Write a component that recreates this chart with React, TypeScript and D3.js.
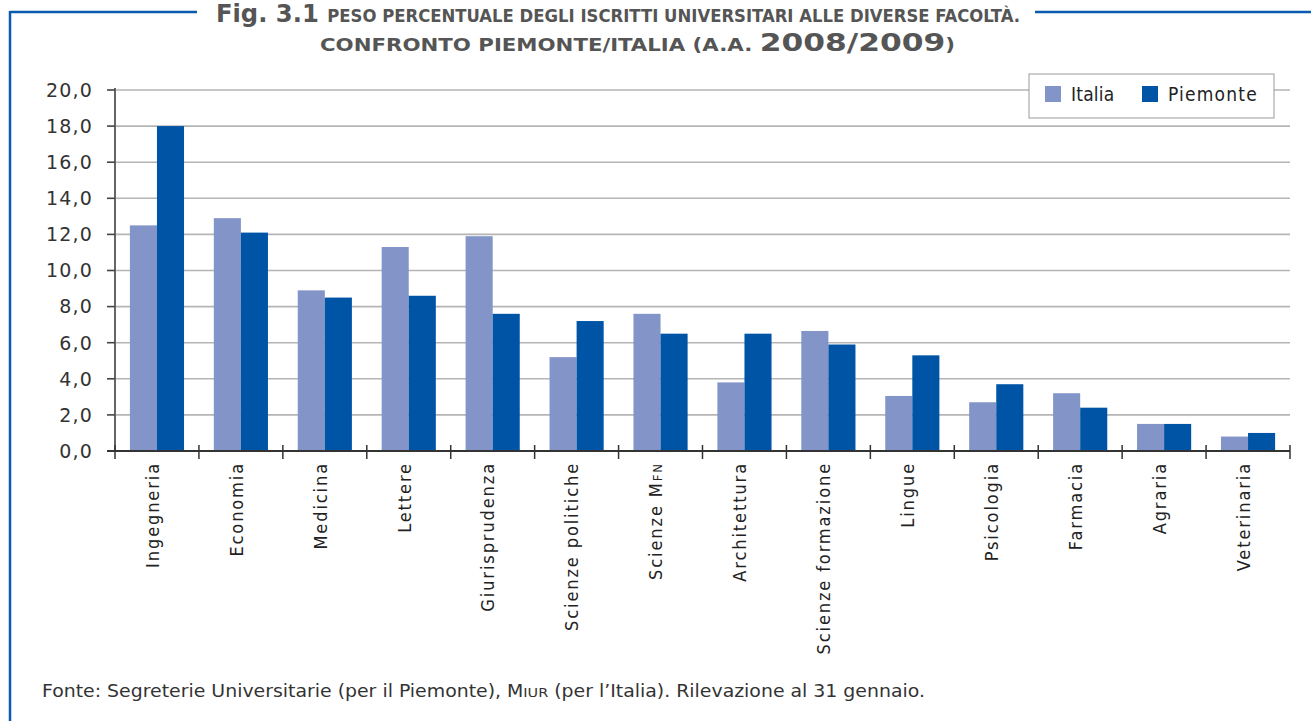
import React from "react";
import * as d3 from "d3";

const categories = [
  "Ingegneria", "Economia", "Medicina", "Lettere", "Giurisprudenza", "Scienze politiche",
  "Scienze MFN", "Architettura", "Scienze formazione", "Lingue", "Psicologia", "Farmacia",
  "Agraria", "Veterinaria",
];
const italia = [12.5, 12.9, 8.9, 11.3, 11.9, 5.2, 7.6, 3.8, 6.65, 3.05, 2.7, 3.2, 1.5, 0.8];
const piemonte = [18.0, 12.1, 8.5, 8.6, 7.6, 7.2, 6.5, 6.5, 5.9, 5.3, 3.7, 2.4, 1.5, 1.0];
const seriesNames = ["Italia", "Piemonte"];
const yTicks = [0, 2, 4, 6, 8, 10, 12, 14, 16, 18, 20];

const W = 1311, H = 721;
const M = { left: 115, right: 1290, top: 90, bottom: 451 };
const COLORS = ["#8294C8", "#0054A6"];
const FONT = "'DejaVu Sans Condensed', 'Liberation Sans', sans-serif";
const FONT_WIDE = "'DejaVu Sans', 'Liberation Sans', sans-serif";

const locale = d3.formatLocale({ decimal: ",", thousands: ".", grouping: [3], currency: ["", "€"] });
const fmt = locale.format(".1f");

function CatLabel({ name }: { name: string }) {
  if (name === "Scienze MFN") {
    return (
      <>
        Scienze M<tspan fontSize={13}>FN</tspan>
      </>
    );
  }
  return <>{name}</>;
}

export default function App() {
  const x = d3.scaleBand<string>().domain(categories).range([M.left, M.right]).paddingInner(0).paddingOuter(0);
  const xs = d3.scaleBand<string>().domain(seriesNames).range([0, x.bandwidth()]).paddingInner(0).paddingOuter(0.55);
  const y = d3.scaleLinear().domain([0, 20]).range([M.bottom, M.top]);
  const values = [italia, piemonte];
  const bounds = categories.map((c) => x(c)!).concat([M.right]);

  return (
    <div style={{ position: "absolute", left: 0, top: 0 }}>
      <svg width={W} height={H} style={{ display: "block", background: "#fff" }} fontFamily={FONT}>
        {/* frame */}
        <g stroke="#0A5BB0" strokeWidth={2.5} fill="none">
          <line x1={10} y1={12} x2={197} y2={12} />
          <line x1={1035} y1={12} x2={1311} y2={12} />
          <line x1={10} y1={11} x2={10} y2={721} />
        </g>
        {/* title */}
        <g fill="#555" fontWeight="bold">
          <text x={216} y={22} textLength={804} lengthAdjust="spacingAndGlyphs">
            <tspan fontSize={25}>Fig. 3.1 </tspan>
            <tspan fontSize={17}>PESO PERCENTUALE DEGLI ISCRITTI UNIVERSITARI ALLE DIVERSE FACOLTÀ.</tspan>
          </text>
          <text x={320} y={51} textLength={635} lengthAdjust="spacingAndGlyphs">
            <tspan fontSize={17}>CONFRONTO PIEMONTE/ITALIA (A.A. </tspan>
            <tspan fontSize={25}>2008/2009</tspan>
            <tspan fontSize={17}>)</tspan>
          </text>
        </g>
        {/* grid */}
        {yTicks.filter((t) => t > 0).map((t) => (
          <line key={t} x1={M.left} x2={M.right} y1={y(t)} y2={y(t)} stroke="#b5b5b5" strokeWidth={1.6} />
        ))}
        {/* bars */}
        {categories.map((c, i) => (
          <g key={c}>
            {seriesNames.map((s, j) => (
              <rect key={s} x={x(c)! + xs(s)!} width={xs.bandwidth()} y={y(values[j][i])}
                height={y(0) - y(values[j][i])} fill={COLORS[j]} />
            ))}
          </g>
        ))}
        {/* y axis */}
        <line x1={M.left} x2={M.left} y1={M.top - 2} y2={M.bottom + 1} stroke="#666" strokeWidth={2} />
        {yTicks.map((t) => (
          <g key={t}>
            <line x1={107} x2={M.left} y1={y(t)} y2={y(t)} stroke="#444" strokeWidth={1.6} />
            <text x={93} y={y(t)} dy="0.36em" textAnchor="end" fontSize={19} fill="#333"
              fontFamily={FONT_WIDE} letterSpacing={1.2}>{fmt(t)}</text>
          </g>
        ))}
        {/* x axis */}
        <line x1={107} x2={M.right} y1={M.bottom} y2={M.bottom} stroke="#333" strokeWidth={1.8} />
        {bounds.map((b, i) => (
          <line key={i} x1={b} x2={b} y1={M.bottom - 6} y2={M.bottom + 8} stroke="#333" strokeWidth={1.5} />
        ))}
        {categories.map((c) => {
          const cx = x(c)! + x.bandwidth() / 2;
          return (
            <text key={c} transform={`translate(${cx},${M.bottom + 11}) rotate(-90)`} textAnchor="end"
              dy="0.1em" fontSize={18} fill="#222" letterSpacing={1.9}>
              <CatLabel name={c} />
            </text>
          );
        })}
        {/* legend */}
        <rect x={1029} y={74} width={245} height={44} fill="#fff" stroke="#999" strokeWidth={1} />
        {seriesNames.map((s, j) => (
          <g key={s} transform={`translate(${[1045, 1142][j]},86)`}>
            <rect width={16} height={16} fill={COLORS[j]} />
            <text x={26} y={8} dy="0.36em" fontSize={19} fill="#222" letterSpacing={j === 1 ? 1.2 : 0.2}>{s}</text>
          </g>
        ))}
        {/* footnote */}
        <text x={42} y={697} fontSize={17} fill="#333" fontFamily={FONT_WIDE} textLength={883} lengthAdjust="spacingAndGlyphs">
          Fonte: Segreterie Universitarie (per il Piemonte), M<tspan fontSize={13}>IUR</tspan> (per l’Italia). Rilevazione al 31 gennaio.
        </text>
      </svg>
    </div>
  );
}
